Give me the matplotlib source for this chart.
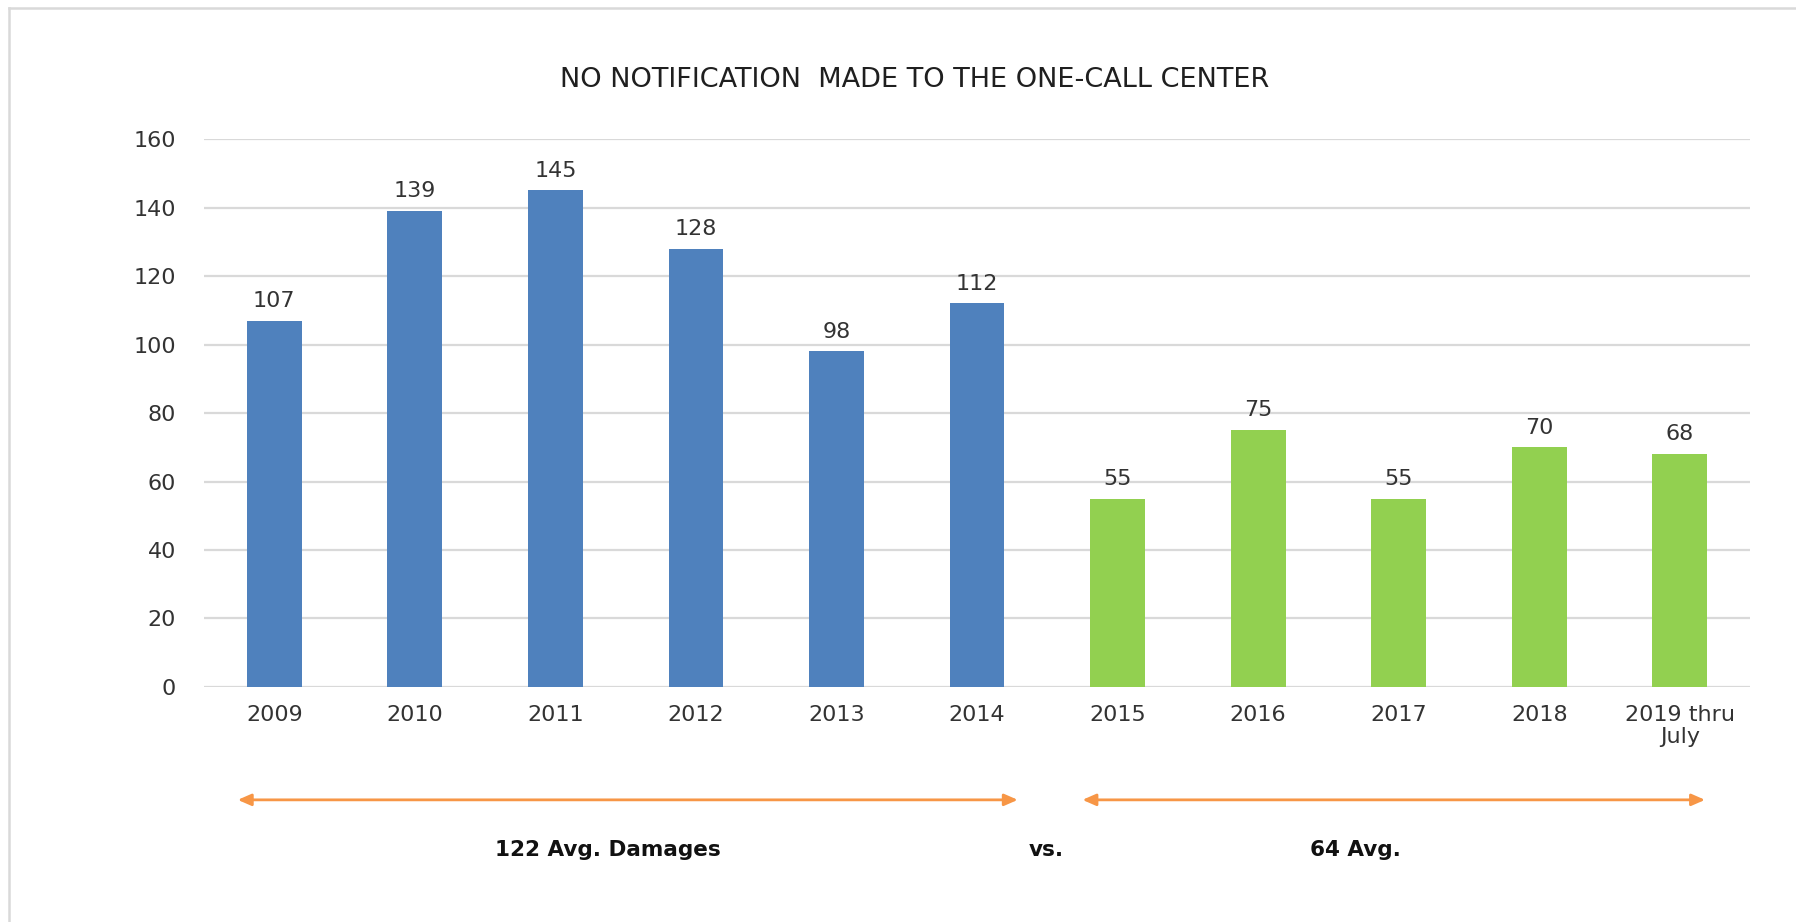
import matplotlib.pyplot as plt
import matplotlib.transforms as mtransforms
from matplotlib.lines import Line2D

# === datos ===
years = ["2009", "2010", "2011", "2012", "2013", "2014",
         "2015", "2016", "2017", "2018", "2019 thru\nJuly"]
damages = [107, 139, 145, 128, 98, 112, 55, 75, 55, 70, 68]
n_before = 6  # 2009-2014 antes del cambio

title = "NO NOTIFICATION  MADE TO THE ONE-CALL CENTER"
avg_before_label = "122 Avg. Damages"
avg_after_label = "64 Avg."

blue = "#4F81BD"
green = "#92D050"
orange = "#F79646"
grid_gray = "#D9D9D9"
text_gray = "#333333"

plt.rcParams['font.family'] = ['DejaVu Sans']

fig = plt.figure(figsize=(17.96, 9.22), dpi=100)
ax = fig.add_axes([0.1136, 0.2549, 0.8608, 0.5943])

x = list(range(len(years)))
colors = [blue] * n_before + [green] * (len(years) - n_before)
bars = ax.bar(x, damages, width=0.39, color=colors, linewidth=0, zorder=3)

for b, v in zip(bars, damages):
    ax.annotate(str(v), (b.get_x() + b.get_width() / 2, v),
                xytext=(0, 7), textcoords="offset points",
                ha="center", va="bottom", fontsize=16, color=text_gray)

ax.set_xlim(-0.5, len(years) - 0.5)
ax.set_ylim(0, 160)
ax.set_yticks(range(0, 161, 20))
ax.set_xticks(x)
ax.set_xticklabels(years, fontsize=16, color=text_gray, linespacing=1.1)
ax.tick_params(axis="y", labelsize=16, labelcolor=text_gray, length=0, pad=20)
ax.tick_params(axis="x", length=0, pad=13)
ax.grid(axis="y", color=grid_gray, linewidth=1.6, zorder=0)
for s in ax.spines.values():
    s.set_visible(False)

fig.text(0.509, 0.913, title, ha="center", va="center", fontsize=19.5, color="#1f1f1f")

# flechas de promedio
trans = mtransforms.blended_transform_factory(ax.transData, ax.transAxes)
arrow_style = dict(arrowstyle="<|-|>,head_length=0.8,head_width=0.35",
                   color=orange, lw=2.0, shrinkA=0, shrinkB=0)
ax.annotate("", xy=(5.29, -0.206), xytext=(-0.26, -0.206), xycoords=trans,
            textcoords=trans, arrowprops=arrow_style, annotation_clip=False)
ax.annotate("", xy=(10.18, -0.206), xytext=(5.75, -0.206), xycoords=trans,
            textcoords=trans, arrowprops=arrow_style, annotation_clip=False)

ax.text(2.37, -0.297, avg_before_label, transform=trans, ha="center", va="center",
        fontsize=15.5, fontweight="bold", color="#111111")
ax.text(5.49, -0.297, "vs.", transform=trans, ha="center", va="center",
        fontsize=15.5, fontweight="bold", color="#111111")
ax.text(7.69, -0.297, avg_after_label, transform=trans, ha="center", va="center",
        fontsize=15.5, fontweight="bold", color="#111111")

# marco gris
fig.add_artist(Line2D([9 / 1796, 1], [1 - 8 / 922, 1 - 8 / 922],
                      transform=fig.transFigure, color=grid_gray, lw=1.8))
fig.add_artist(Line2D([9 / 1796, 9 / 1796], [0, 1 - 8 / 922],
                      transform=fig.transFigure, color=grid_gray, lw=1.8))

fig.savefig("out.png", dpi=100)
